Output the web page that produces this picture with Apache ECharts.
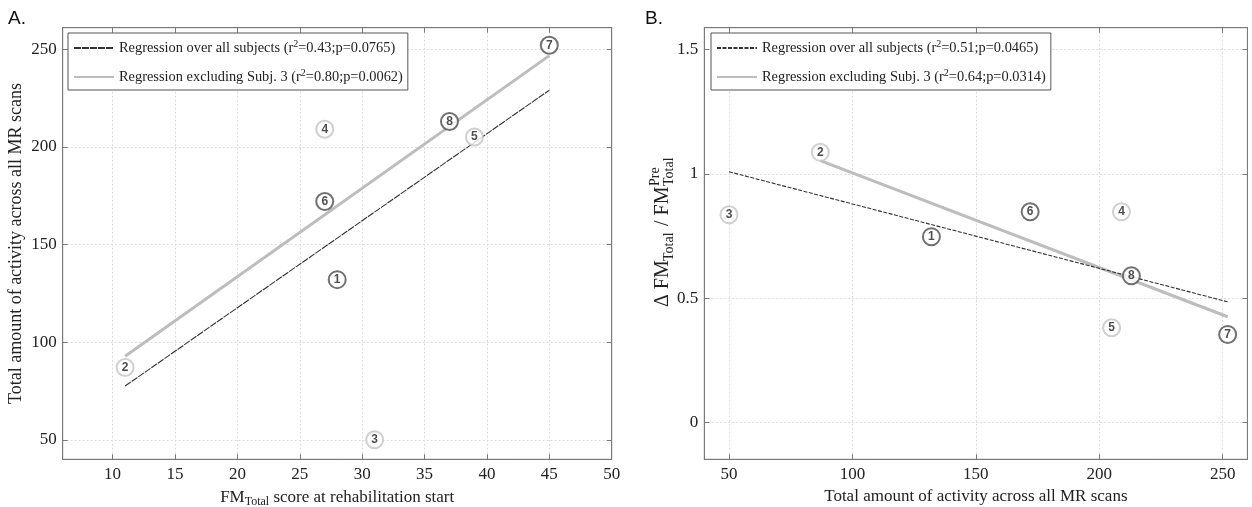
<!DOCTYPE html>
<html>
<head>
<meta charset="utf-8">
<title>Activity vs FM</title>
<script src="https://cdnjs.cloudflare.com/ajax/libs/echarts/6.0.0/echarts.min.js"></script>
<style>
  html, body { margin: 0; padding: 0; background: #fff; }
  #chart { width: 1252px; height: 507px; }
</style>
</head>
<body>
<div id="chart"></div>
<script>
// subjects and values
var subjects = [1, 2, 3, 4, 5, 6, 7, 8];
var fmTotal  = [28, 11, 31, 27, 39, 27, 45, 37];
var activity = [132, 87, 50, 209, 205, 172, 252, 213];
var deltaFM  = [0.748, 1.087, 0.836, 0.848, 0.382, 0.848, 0.355, 0.591];
var group    = ['dark', 'light', 'light', 'light', 'light', 'dark', 'dark', 'dark'];

// regression line end points
var fitAllA  = [[11, 77.5], [45, 229]];
var fitExclA = [[11, 92.8], [45, 246.7]];
var fitAllB  = [[50, 1.009], [252, 0.486]];
var fitExclB = [[87, 1.054], [252, 0.426]];

var legendA = ['0.43', '0.0765', '0.80', '0.0062'];
var legendB = ['0.51', '0.0465', '0.64', '0.0314'];

// ticks
var ticksAX = [10, 15, 20, 25, 30, 35, 40, 45, 50];
var ticksAY = [50, 100, 150, 200, 250];
var ticksBX = [50, 100, 150, 200, 250];
var ticksBY = [0, 0.5, 1, 1.5];

var serif = 'Liberation Serif';
var txt = '#222';
var axisCol = '#7a7a7a';
var ringCol = { dark: '#4d4d4d', light: '#c4c4c4' };

function points(xs, ys) {
  return subjects.map(function (s, i) {
    return {
      value: [xs[i], ys[i]],
      name: String(s),
      itemStyle: { color: '#fff', borderColor: ringCol[group[i]], borderWidth: 2 }
    };
  });
}

var richName = {
  t: { fontFamily: serif, fontSize: 17, color: txt },
  sub: { fontFamily: serif, fontSize: 12, color: txt, padding: [9, 0, 0, 0] }
};
var richLegend = {
  t: { fontFamily: serif, fontSize: 14.4, color: txt },
  sup: { fontFamily: serif, fontSize: 10, color: txt, padding: [0, 0, 8, 0] }
};

function mainX(grid, min, max, ticks, name) {
  return {
    gridIndex: grid, type: 'value', min: min, max: max, position: 'bottom',
    name: name, nameLocation: 'middle', nameGap: 28,
    nameTextStyle: { fontFamily: serif, fontSize: 17, color: txt, rich: richName },
    axisLine: { show: true, onZero: false, lineStyle: { color: axisCol } },
    axisTick: { show: true, inside: true, length: 5, customValues: ticks, lineStyle: { color: axisCol } },
    axisLabel: { customValues: ticks, fontFamily: serif, fontSize: 17, color: txt, margin: 7 },
    splitLine: { show: true, lineStyle: { color: '#dcdcdc', type: [2, 2] } }
  };
}
function mainY(grid, min, max, ticks, name) {
  return {
    gridIndex: grid, type: 'value', min: min, max: max, position: 'left',
    name: name, nameLocation: 'middle', nameGap: 37,
    nameTextStyle: { fontFamily: serif, fontSize: 18, color: txt },
    axisLine: { show: true, onZero: false, lineStyle: { color: axisCol } },
    axisTick: { show: true, inside: true, length: 5, customValues: ticks, lineStyle: { color: axisCol } },
    axisLabel: { customValues: ticks, fontFamily: serif, fontSize: 17, color: txt, margin: 6 },
    splitLine: { show: true, lineStyle: { color: '#dcdcdc', type: [2, 2] } }
  };
}
function mirror(base, pos) {
  return {
    gridIndex: base.gridIndex, type: 'value', min: base.min, max: base.max, position: pos,
    axisLine: { show: true, onZero: false, lineStyle: { color: axisCol } },
    axisTick: { show: true, inside: true, length: 5, customValues: base.axisTick.customValues, lineStyle: { color: axisCol } },
    axisLabel: { show: false },
    splitLine: { show: false }
  };
}

function legendText(vals, which) {
  var head = which === 0 ? 'Regression over all subjects (r' : 'Regression excluding Subj. 3 (r';
  var r = vals[which * 2], p = vals[which * 2 + 1];
  return '{t|' + head + '}{sup|2}{t|=' + r + ';p=' + p + ')}';
}

var xA = mainX(0, 6, 50, ticksAX, '{t|FM}{sub|Total}{t| score at rehabilitation start}');
var yA = mainY(0, 40, 261, ticksAY, 'Total amount of activity across all MR scans');
var xB = mainX(1, 40, 260, ticksBX, '{t|Total amount of activity across all MR scans}');
var yB = mainY(1, -0.147, 1.588, ticksBY, '');

function fitSeries(name, xi, yi, data, dash) {
  var col = dash ? '#333' : '#bdbdbd';
  return {
    name: name, type: 'line', xAxisIndex: xi, yAxisIndex: yi, data: data,
    symbol: 'none', silent: true, z: dash ? 3 : 2,
    itemStyle: { color: col },
    lineStyle: dash ? { color: col, width: 1.1, type: dash } : { color: col, width: 3 }
  };
}
function scatterSeries(xi, yi, data) {
  return {
    type: 'scatter', xAxisIndex: xi, yAxisIndex: yi, data: data,
    symbol: 'circle', symbolSize: 17, z: 5,
    label: {
      show: true, position: 'inside', formatter: '{b}',
      fontFamily: 'Liberation Sans', fontWeight: 'bold', fontSize: 12, color: '#222'
    }
  };
}

function legendBox(names, left, vals) {
  return {
    data: names, orient: 'vertical', left: left, top: 33,
    backgroundColor: '#fff', borderColor: '#555', borderWidth: 1, padding: [6, 5, 6, 5],
    itemWidth: 40, itemHeight: 12, itemGap: 13,
    itemStyle: { color: 'rgba(0,0,0,0)', borderColor: 'rgba(0,0,0,0)', borderWidth: 0 },
    formatter: function (n) { return legendText(vals, n === names[0] ? 0 : 1); },
    textStyle: { rich: richLegend }
  };
}

var option = {
  animation: false,
  backgroundColor: '#fff',
  grid: [
    { left: 62.7, right: 640.3, top: 27.7, bottom: 47.7, outerBoundsMode: 'none', show: true, borderColor: axisCol, borderWidth: 1 },
    { left: 704.3, right: 4.6, top: 27.7, bottom: 47.7, outerBoundsMode: 'none', show: true, borderColor: axisCol, borderWidth: 1 }
  ],
  xAxis: [xA, xB, mirror(xA, 'top'), mirror(xB, 'top')],
  yAxis: [yA, yB, mirror(yA, 'right'), mirror(yB, 'right')],
  legend: [
    legendBox(['allA', 'exclA'], 68, legendA),
    legendBox(['allB', 'exclB'], 711, legendB)
  ],
  graphic: [
    { type: 'text', left: 8, top: 9, style: { text: 'A.', fontFamily: 'Liberation Sans', fontSize: 19, fill: '#111' } },
    { type: 'text', left: 645, top: 9, style: { text: 'B.', fontFamily: 'Liberation Sans', fontSize: 19, fill: '#111' } },
    {
      type: 'group', x: 663, y: 307, rotation: Math.PI / 2,
      children: [
        { type: 'text', x: 0, y: 0, style: { text: '\u0394 FM', fontFamily: serif, fontSize: 20, fill: txt, verticalAlign: 'middle' } },
        { type: 'text', x: 46, y: 6, style: { text: 'Total', fontFamily: serif, fontSize: 14, fill: txt, verticalAlign: 'middle' } },
        { type: 'text', x: 76, y: 0, style: { text: ' / FM', fontFamily: serif, fontSize: 20, fill: txt, verticalAlign: 'middle' } },
        { type: 'text', x: 121, y: -8, style: { text: 'Pre', fontFamily: serif, fontSize: 14, fill: txt, verticalAlign: 'middle' } },
        { type: 'text', x: 121, y: 6, style: { text: 'Total', fontFamily: serif, fontSize: 14, fill: txt, verticalAlign: 'middle' } }
      ]
    }
  ],
  series: [
    fitSeries('exclA', 0, 0, fitExclA, null),
    fitSeries('allA', 0, 0, fitAllA, [7, 1]),
    scatterSeries(0, 0, points(fmTotal, activity)),
    fitSeries('exclB', 1, 1, fitExclB, null),
    fitSeries('allB', 1, 1, fitAllB, [4, 1.5]),
    scatterSeries(1, 1, points(activity, deltaFM))
  ]
};

var chart = echarts.init(document.getElementById('chart'));
chart.setOption(option);
</script>
</body>
</html>
